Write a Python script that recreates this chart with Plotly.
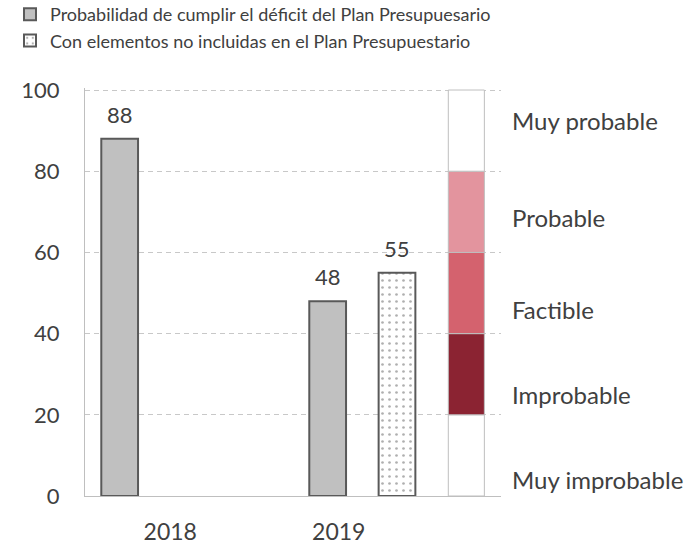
import plotly.graph_objects as go

# ---- data ----
series1_name = "Probabilidad de cumplir el déficit del Plan Presupuesario"
series2_name = "Con elementos no incluidas en el Plan Presupuestario"
series1_x = [0, 3]
series1_values = [88, 48]
series2_x = [4]
series2_values = [55]
band_x = 5
band_edges = [0, 20, 40, 60, 80, 100]
band_colors = ["#FFFFFF", "#8B2332", "#D4626E", "#E3949E", "#FFFFFF"]
band_labels = ["Muy improbable", "Improbable", "Factible", "Probable", "Muy probable"]
band_label_y = [4, 25, 46, 68.5, 92.5]
year_labels = ["2018", "2019"]
year_tick_pos = [0.73, 3.16]
y_ticks = [0, 20, 40, 60, 80, 100]

FONT = "Lato"
TXT = "#404040"
BIG = 22
GRID = "#C8C8C8"
DASH = "5px,4px"

ML, MR, MT, MB = 85, 186, 88, 46
W, H = 687, 542
plot_w = W - ML - MR
plot_h = H - MT - MB

fig = go.Figure()

fig.add_trace(go.Bar(
    x=series1_x, y=series1_values, name=series1_name,
    width=0.53,
    marker=dict(color="#C0C0C0", line=dict(color="#595959", width=2)),
))
fig.add_trace(go.Bar(
    x=series2_x, y=series2_values, name=series2_name,
    width=0.53,
    marker=dict(color="#FFFFFF", line=dict(color="#595959", width=2),
                pattern=dict(shape=".", fgcolor="#5F5F5F", bgcolor="#FFFFFF",
                             size=7, solidity=0.12)),
))

for i in range(len(band_colors)):
    lo, hi = band_edges[i], band_edges[i + 1]
    fig.add_trace(go.Bar(
        x=[band_x], y=[hi - lo], base=[lo], width=0.52,
        marker=dict(color=band_colors[i], line=dict(color="#BFBFBF", width=1)),
        showlegend=False, hoverinfo="skip",
    ))

# data labels
for xs, vals in ((series1_x, series1_values), (series2_x, series2_values)):
    for xv, v in zip(xs, vals):
        fig.add_annotation(x=xv, y=v, xref="x", yref="y", text=str(v),
                           showarrow=False, yanchor="bottom", yshift=9,
                           font=dict(size=BIG, color=TXT, family=FONT))

for lab, yv in zip(band_labels, band_label_y):
    fig.add_annotation(x=(510 - ML) / plot_w, y=yv, xref="paper", yref="y", text=lab,
                       showarrow=False, xanchor="left", yanchor="middle",
                       font=dict(size=24, color=TXT, family=FONT))

fig.update_layout(
    width=W, height=H,
    margin=dict(l=ML, r=MR, t=MT, b=MB, autoexpand=False),
    paper_bgcolor="white", plot_bgcolor="white",
    barmode="overlay",
    font=dict(family=FONT, size=18, color=TXT),
    showlegend=True,
    legend=dict(x=(10 - ML) / plot_w, y=1 + (MT + 4) / plot_h,
                xanchor="left", yanchor="top",
                font=dict(size=18, color=TXT, family=FONT),
                tracegroupgap=0, itemwidth=30, bgcolor="rgba(0,0,0,0)"),
    xaxis=dict(range=[-0.5, 5.5], tickmode="array", tickvals=year_tick_pos,
               ticktext=year_labels, showgrid=False, zeroline=False,
               showline=True, linecolor="#BFBFBF", linewidth=1,
               ticks="outside", ticklen=15, tickcolor="rgba(0,0,0,0)",
               automargin=False,
               tickfont=dict(size=23, color=TXT, family=FONT)),
    yaxis=dict(range=[0, 100.5], tickvals=y_ticks, showgrid=True,
               gridcolor=GRID, griddash=DASH, gridwidth=1,
               zeroline=False, showline=True, linecolor="#BFBFBF", linewidth=1,
               ticks="outside", ticklen=20, tickcolor="rgba(0,0,0,0)",
               automargin=False,
               tickfont=dict(size=BIG, color=TXT, family=FONT)),
)

fig.write_html("out.html", config={"displayModeBar": False},
               post_script="document.body.style.margin='0';")
